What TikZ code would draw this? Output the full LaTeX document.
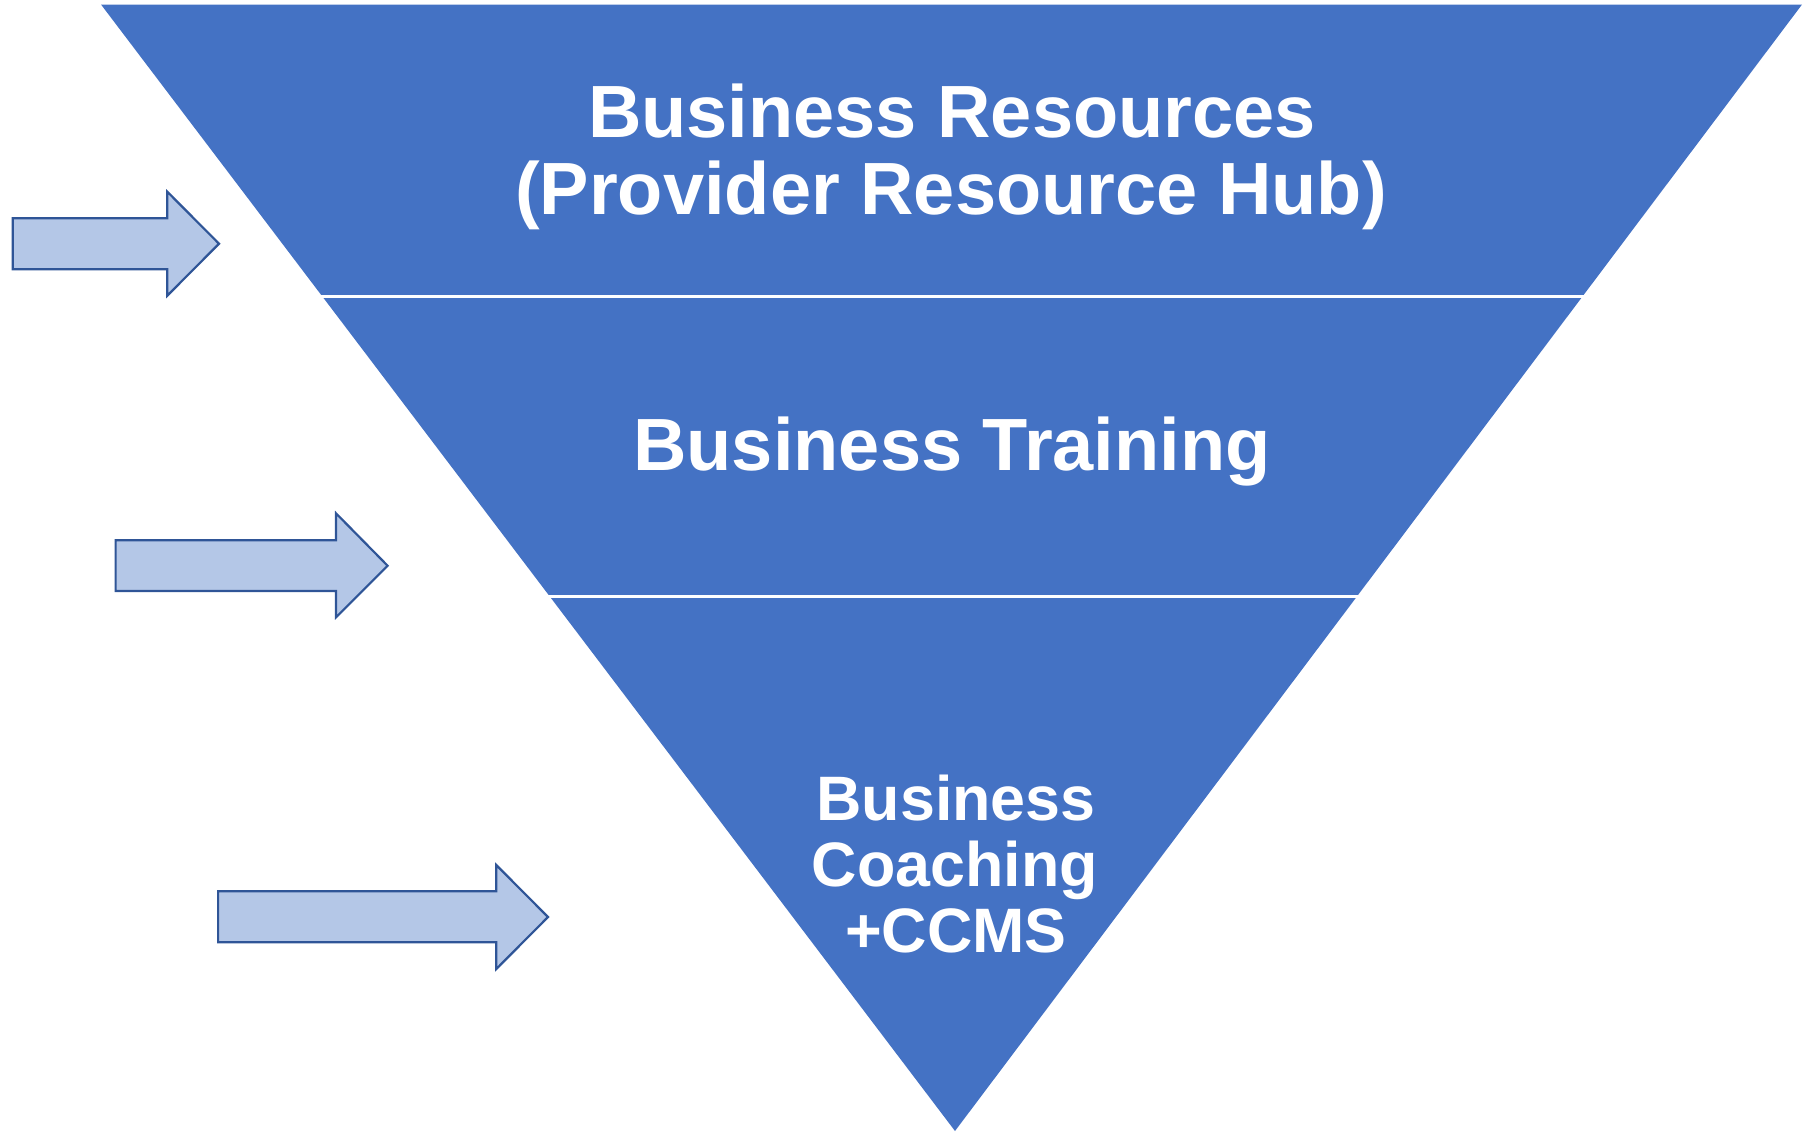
\documentclass[tikz,border=0pt]{standalone}
\usepackage{fontspec}
\setmainfont{Liberation Sans}
\begin{document}
\begin{tikzpicture}[x=0.5pt,y=-0.5pt,
  funnel/.style={fill=funnelblue},
  gap/.style={draw=white,line width=1.6pt},
  feeder/.style={fill=arrowfill,draw=arrowline,line width=1.1pt,line join=miter},
  bigtext/.style={text=white,font=\bfseries\fontsize{37}{38}\selectfont,inner sep=0pt,anchor=base},
  smalltext/.style={text=white,font=\bfseries\fontsize{31.4}{32}\selectfont,inner sep=0pt,anchor=base}]
\definecolor{funnelblue}{HTML}{4472C4}
\definecolor{arrowfill}{HTML}{B4C7E7}
\definecolor{arrowline}{HTML}{2F5597}
\useasboundingbox (0,0) rectangle (1805,1132);

% inverted triangle split into three bands
\coordinate (tl) at (101,4.5);
\coordinate (tr) at (1802,4.5);
\coordinate (apex) at (955,1131);
\fill[funnel] (tl) -- (tr) -- (apex) -- cycle;
\coordinate (g1l) at (319,296.5);
\coordinate (g1r) at (1584,296.5);
\coordinate (g2l) at (546,596.5);
\coordinate (g2r) at (1359,596.5);
\draw[gap] (g1l) -- (g1r);
\draw[gap] (g2l) -- (g2r);

% feeding block arrows
\draw[feeder] (12.7,218.3) -- (167.3,218.3) -- (167.3,191.7) -- (219,243.7)
  -- (167.3,295.7) -- (167.3,269.3) -- (12.7,269.3) -- cycle;
\draw[feeder] (115.6,540.3) -- (336,540.3) -- (336,513.3) -- (387.6,565.7)
  -- (336,617.3) -- (336,591) -- (115.6,591) -- cycle;
\draw[feeder] (218.1,891.3) -- (496.3,891.3) -- (496.3,865) -- (548,917)
  -- (496.3,969) -- (496.3,942.3) -- (218.1,942.3) -- cycle;

% band labels
\node[bigtext] (res1) at (952,137.7) {Business Resources};
\node[bigtext] (res2) at (951,214) {(Provider Resource Hub)};
\node[bigtext] (train) at (952,470) {Business Training};
\node[smalltext] (coach1) at (956,820) {Business};
\node[smalltext] (coach2) at (955,886.5) {Coaching};
\node[smalltext] (coach3) at (956,952) {+CCMS};
\end{tikzpicture}
\end{document}
